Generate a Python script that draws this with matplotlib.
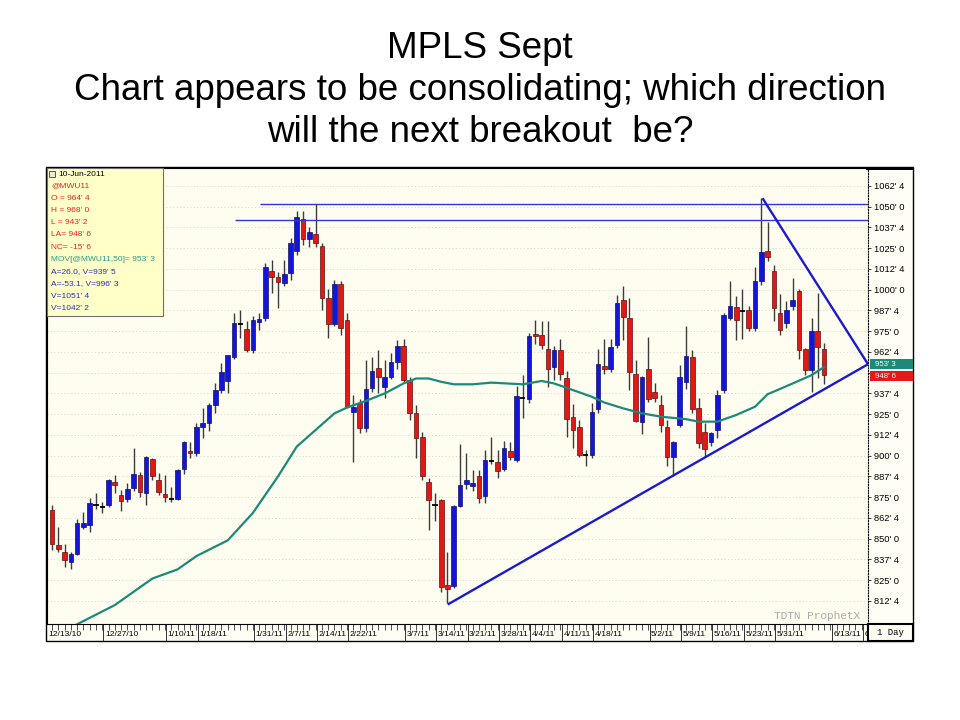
import matplotlib
matplotlib.use("Agg")
import matplotlib.pyplot as plt
import matplotlib.patches as patches
import matplotlib.transforms as mtransforms
import numpy as np

# MWU11 daily bars, 12/14/10 .. 6/10/11 (one entry per trading day)
opens = [867, 846, 842, 836, 841, 857, 858, 870, 869, 870,
         884, 876.5, 874, 880.5, 888.5, 877.5, 898, 885.5, 877, 874,
         874, 892, 903, 901.5, 917.5, 919.5, 930.5, 939.5, 945, 959.5,
         979.5, 976.5, 963.5, 980.5, 983, 1011.5, 1007.5, 1004, 1010, 1023,
         1042.5, 1030.5, 1033.5, 1026.5, 995, 979.5, 1003.5, 981.5, 926.5, 932,
         916.5, 940.5, 953, 941.5, 947.5, 956.5, 966, 945.5, 926, 911.5,
         884, 870, 873.5, 822, 821.5, 869.5, 883, 882, 887.5, 875.5,
         897, 896, 892, 903, 897.5, 935, 934, 973, 972.5, 964.5,
         953.5, 963.5, 947, 923, 917.5, 900.5, 900.5, 928, 954, 952.5,
         966.5, 994, 983, 949.5, 920.5, 952.5, 938.5, 930.5, 917.5, 899.5,
         918.5, 944.5, 959.5, 928.5, 914, 908.5, 915.5, 939.5, 983, 989.5,
         987, 988, 977, 1005.5, 1023, 1011.5, 986, 980, 990, 999,
         964, 951.5, 975, 964.5]
highs = [870, 857, 847, 842, 862, 866, 874.5, 877.5, 872, 886,
         888.5, 879.5, 883.5, 904.5, 890, 900, 898.5, 889.5, 888.5, 881,
         892, 909, 908, 919.5, 929, 932, 944, 956, 960.5, 986,
         988, 981, 984, 986, 1016, 1018, 1010.5, 1018, 1031, 1047.5,
         1047.5, 1038, 1051.5, 1028, 1000.5, 1006, 1005.5, 986, 936.5, 934,
         957.5, 959.5, 963.5, 957.5, 962, 969.5, 970.5, 947.5, 930.5, 914.5,
         886.5, 877.5, 874, 842, 870.5, 907, 901.5, 891.5, 891.5, 903.5,
         911.5, 903.5, 909, 908.5, 942, 948.5, 974, 981.5, 981, 981,
         966, 970, 951, 931, 921.5, 903.5, 932, 964, 970.5, 970,
         997, 1002, 995, 957.5, 948, 971.5, 943.5, 936.5, 921.5, 909,
         954.5, 978, 963.5, 934.5, 919.5, 914.5, 939.5, 986, 1005, 996,
         1000.5, 990, 1013.5, 1055, 1041, 1015, 997.5, 993, 1007, 1000.5,
         965, 983, 998, 968]
lows = [843, 842, 833, 832, 840, 856, 854, 868, 865.5, 869,
        877.5, 866.5, 872, 879, 875, 870.5, 885.5, 876.5, 872, 872,
        873, 889, 898.5, 900, 910.5, 915, 926, 938, 938, 958,
        971, 962.5, 962, 976, 981, 998, 989, 1002, 1006, 1021,
        1027, 1026, 1025.5, 988, 971, 978, 972.5, 929, 896, 913.5,
        914, 938.5, 937.5, 934.5, 946, 952, 944, 921.5, 898.5, 885.5,
        855.5, 860.5, 818, 811, 820, 869, 880, 879, 871.5, 871.5,
        895, 886.5, 890.5, 897.5, 896, 922.5, 932, 967.5, 964.5, 941.5,
        945.5, 945.5, 911.5, 904.5, 899, 893.5, 898.5, 926, 949, 950.5,
        965, 969.5, 939.5, 920, 913, 932.5, 932.5, 914.5, 894, 888,
        917, 940, 925.5, 904.5, 899.5, 906, 910.5, 938, 982, 969.5,
        970.5, 975, 975, 1003, 1017, 981, 972.5, 977, 988, 958.5,
        948.5, 938.5, 946.5, 943.25]
closes = [847, 844, 837, 841, 859.5, 859.5, 871.5, 870, 869, 885.5,
          882.5, 872.5, 880, 889, 878, 899.5, 888, 878, 875, 874,
          891.5, 908.5, 901.5, 917.5, 919.5, 930.5, 939.5, 950.5, 960.5, 980,
          979.5, 963.5, 982, 982.5, 1013.5, 1007.5, 1004.5, 1009.5, 1028, 1043.5,
          1030.5, 1034.5, 1028, 995, 979.5, 1003.5, 977, 929.5, 929.5, 916.5,
          940, 951, 947.5, 947.5, 956.5, 966, 945.5, 926, 910.5, 887.5,
          873, 870, 821, 819.5, 869.5, 882.5, 885.5, 883.5, 874.5, 897.5,
          897, 890.5, 904.5, 899, 936, 935, 972, 972, 966.5, 952.5,
          963.5, 949, 922, 915.5, 900.5, 900.5, 926.5, 955.5, 952.5, 965.5,
          992, 983.5, 950.5, 921, 947.5, 934, 934.5, 918.5, 899.5, 908.5,
          947.5, 960, 928, 907.5, 904, 913.5, 936.5, 985, 990, 982,
          987, 977, 1005.5, 1022.5, 1019.5, 989, 976, 987.5, 994, 963.5,
          951.5, 975, 965.5, 948.75]

# 50 day moving average (bar index, value)
ma_idx = [3, 10, 16, 20, 23, 28, 32, 36, 39, 42, 45, 47, 50, 53, 56, 58, 60, 62,
          64, 67, 70, 75, 78, 80, 83, 86, 88, 91, 94, 97, 101, 103, 106, 109,
          112, 114, 118, 121, 123]
ma_val = [796.5, 810, 826, 831.5, 839.5, 849, 865.5, 887.5, 905.5, 915.5, 925.5,
          929, 933, 937.5, 943.5, 946.5, 946.5, 944.5, 943, 943, 944, 943, 945,
          943.5, 939.5, 935.5, 932, 928.5, 925.5, 923.5, 922, 920.5, 920.5,
          924.5, 929.5, 937, 943.5, 948.5, 953.375]

# date axis
date_idx = [-1, 8, 18, 23, 32, 37, 42, 47, 56, 61, 66, 71, 76, 81, 86, 95, 100,
            105, 110, 115, 124, 129]
date_labels = ["12/13/10", "12/27/10", "1/10/11", "1/18/11", "1/31/11", "2/7/11",
               "2/14/11", "2/22/11", "3/7/11", "3/14/11", "3/21/11", "3/28/11",
               "4/4/11", "4/11/11", "4/18/11", "5/2/11", "5/9/11", "5/16/11",
               "5/23/11", "5/31/11", "6/13/11", "6/"]

# drawn study lines
hline_levels = [1051.5, 1042.25]
hline_starts = [33.1, 29.1]
support_x = [63.2, 130.0]
support_y = [810.7, 955.1]
resist_x = [113.3, 130.0]
resist_y = [1054.5, 955.1]

legend_lines = [
    ("10-Jun-2011", "black"),
    ("@MWU11", "#e8202a"),
    ("O = 964' 4", "#e8202a"),
    ("H = 968' 0", "#e8202a"),
    ("L = 943' 2", "#e8202a"),
    ("LA= 948' 6", "#e8202a"),
    ("NC= -15' 6", "#e8202a"),
    ("MOV[@MWU11,50]= 953' 3", "#2a9a88"),
    ("A=26.0, V=939' 5", "#2a2ad0"),
    ("A=-53.1, V=996' 3", "#2a2ad0"),
    ("V=1051' 4", "#2a2ad0"),
    ("V=1042' 2", "#2a2ad0"),
]

plt.rcParams['font.family'] = ['Liberation Sans', 'DejaVu Sans']

W, H = 960, 720


def fx(px):
    return px / W


def fy(py):
    return 1 - py / H


def eighths(v):
    whole = int(np.floor(v + 1e-9))
    e = int(round((v - whole) * 8))
    return f"{whole}' {e}"


fig = plt.figure(figsize=(9.6, 7.2), dpi=100)
fig.patch.set_facecolor('white')

# title
fig.text(0.5, fy(58.5), "MPLS Sept", ha='center', va='baseline', fontsize=26.5)
fig.text(0.5, fy(100), "Chart appears to be consolidating; which direction",
         ha='center', va='baseline', fontsize=26.5)
fig.text(0.5, fy(141.5), "will the next breakout  be?", ha='center',
         va='baseline', fontsize=26.5)

# outer frame of the chart window
fig.patches.append(patches.Rectangle((fx(46), fy(641)), fx(913) - fx(46),
                                     fy(167) - fy(641), transform=fig.transFigure,
                                     facecolor='#fffdf4', edgecolor='black', lw=1,
                                     zorder=-5))

ax = fig.add_axes([fx(47), fy(624), fx(868) - fx(47), fy(168) - fy(624)])
ax.set_facecolor('#fffdf0')
ax.set_xlim(-0.8, 130.0)
ax.set_ylim(798.6, 1073.3)

o = np.array(opens)
h = np.array(highs)
l = np.array(lows)
c = np.array(closes)
idx = np.arange(len(c))
up = c > o
dn = c < o
flat = c == o

ax.vlines(idx, l, h, color='#3c3c3c', lw=1.0, zorder=2)
ax.bar(idx[up], c[up] - o[up], bottom=o[up], width=0.74, color='#1414e0',
       edgecolor='#101060', lw=0.5, zorder=3)
ax.bar(idx[dn], o[dn] - c[dn], bottom=c[dn], width=0.74, color='#e41616',
       edgecolor='#601010', lw=0.5, zorder=3)
ax.hlines(o[flat], idx[flat] - 0.42, idx[flat] + 0.42, color='black', lw=1.3, zorder=3)

ax.plot(ma_idx, ma_val, color='#1b8a78', lw=1.6, zorder=4)

for lev, x0 in zip(hline_levels, hline_starts):
    ax.hlines(lev, x0, 130.0, color='#3535d5', lw=1.0, zorder=5)
ax.plot(support_x, support_y, color='#1a1ad0', lw=1.7, zorder=5)
ax.plot(resist_x, resist_y, color='#1a1ad0', lw=1.7, zorder=5)

# y axis on the right, eighths notation; the 950 label sits under the value flags
yt = np.arange(812.5, 1063, 12.5)
ax.set_yticks(yt)
ax.set_yticklabels(["" if v == 950 else eighths(v) for v in yt])
ax.yaxis.tick_right()
ax.tick_params(axis='y', length=2.5, width=0.7, pad=1.5, labelsize=6.7,
               color='#404040')
ax.grid(axis='y', color='#d6d6cc', linestyle=(0, (1, 2.5)), lw=0.7)

# date axis
ax.set_xticks([d + 0.2 for d in date_idx if d >= 0])
ax.set_xticklabels([])
ax.set_xticks(np.arange(0, 130), minor=True)
ax.tick_params(axis='x', which='major', length=12.5, width=0.7, color='#303030')
ax.tick_params(axis='x', which='minor', length=4, width=0.6, color='#303030')
trans = mtransforms.blended_transform_factory(ax.transData, ax.transAxes)
for d, lab in zip(date_idx, date_labels):
    ax.text(d + 0.45, -0.024, lab, transform=trans, ha='left', va='center',
            fontsize=6.1, clip_on=False)

for side in ['left', 'bottom', 'top']:
    ax.spines[side].set_color('black')
    ax.spines[side].set_linewidth(0.8)
ax.spines['right'].set_linestyle((0, (1, 1.5)))
ax.spines['right'].set_linewidth(0.8)

# last value flags on the price axis (moving average flag sits just above)
ytrans = mtransforms.blended_transform_factory(ax.transAxes, ax.transData)
for val, col, dy in [(ma_val[-1], '#1b8a78', 1.6), (closes[-1], '#e81818', -0.8)]:
    ax.add_patch(patches.Rectangle((1.002, val + dy - 3.0), 0.053, 6.0,
                                   transform=ytrans, facecolor=col, edgecolor='none',
                                   clip_on=False, zorder=6))
    ax.text(1.008, val + dy, eighths(val), transform=ytrans, ha='left', va='center',
            fontsize=5.6, color='white', clip_on=False, zorder=7)

# watermark
ax.text(0.99, 0.006, "TDTN ProphetX", transform=ax.transAxes, ha='right',
        va='bottom', fontsize=8, family='Liberation Mono', color='#a8a8a8')

# "1 Day" box and thick top of axis strip
fig.patches.append(patches.Rectangle((fx(868), fy(641)), fx(913) - fx(868),
                                     fy(624) - fy(641), transform=fig.transFigure,
                                     facecolor='#fffdf4', edgecolor='black', lw=1.5))
fig.text(fx(890.5), fy(632.5), "1 Day", ha='center', va='center', fontsize=6.5,
         family='Liberation Mono')
fig.patches.append(patches.Rectangle((fx(866), fy(170)), fx(913) - fx(866),
                                     fy(167) - fy(170), transform=fig.transFigure,
                                     facecolor='black', edgecolor='none'))

# info box (top left)
fig.patches.append(patches.Rectangle((fx(47), fy(316)), fx(163) - fx(47),
                                     fy(168) - fy(316), transform=fig.transFigure,
                                     facecolor='#ffffc8', edgecolor='#707070', lw=0.8,
                                     zorder=8))
fig.patches.append(patches.Rectangle((fx(48.5), fy(177)), fx(6), fx(6) * W / H,
                                     transform=fig.transFigure, facecolor='#e8e8e8',
                                     edgecolor='#404040', lw=0.6, zorder=9))
for k, (txt, col) in enumerate(legend_lines):
    xpos = 58 if k == 0 else 51
    fig.text(fx(xpos), fy(174 + 12.2 * k), txt, ha='left', va='center',
             fontsize=6.0, color=col, zorder=10)

fig.savefig("out.png", dpi=100, facecolor='white')
